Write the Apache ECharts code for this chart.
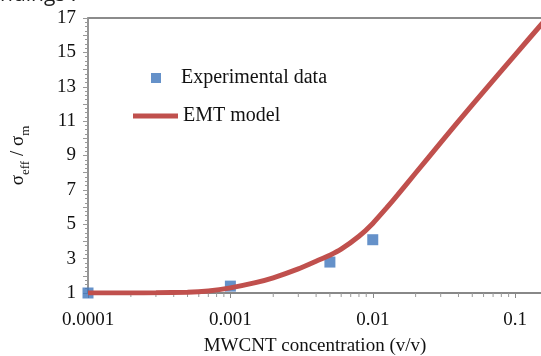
<!DOCTYPE html>
<html>
<head>
<meta charset="utf-8">
<script src="https://cdn.jsdelivr.net/npm/echarts@6/dist/echarts.min.js"></script>
<style>
  html, body { margin: 0; padding: 0; background: #fff; }
  #chart { width: 541px; height: 356px; }
</style>
</head>
<body>
<div id="chart"></div>
<script>
// experimental points
var expX = [0.0001, 0.001, 0.005, 0.01];
var expY = [1.0, 1.4, 2.8, 4.1];

// EMT model curve
var emtX = [0.0001, 0.0002, 0.0003, 0.0005, 0.0007, 0.001, 0.0015, 0.002, 0.003, 0.004,
            0.005, 0.006, 0.008, 0.01, 0.0125, 0.015, 0.02, 0.03, 0.05, 0.08, 0.1, 0.15, 0.2];
var emtY = [1.0, 1.0, 1.01, 1.04, 1.12, 1.3, 1.6, 1.88, 2.4, 2.85,
            3.2, 3.55, 4.3, 5.05, 5.95, 6.72, 7.98, 9.75, 11.95, 13.92, 14.86, 16.55, 17.75];

// minor ticks of the log axis
var minorTicks = [];
[0.0001, 0.001, 0.01, 0.1].forEach(function (d) {
    for (var k = 2; k <= 9; k++) minorTicks.push(d * k);
});

var serif = '"Liberation Serif", "Times New Roman", serif';

var chart = echarts.init(document.getElementById('chart'));

var option = {
    animation: false,
    grid: {
        left: 88,
        top: 18,
        bottom: 63,
        width: 470,
        outerBoundsMode: 'none',
        show: true,
        borderColor: '#666',
        borderWidth: 1.5
    },
    graphic: [{
        type: 'text',
        left: 0,
        top: -15,
        style: {
            text: 'ndings :',
            font: '21px "Open Sans"',
            fill: '#222'
        }
    }],
    legend: [{
        data: ['Experimental data'],
        orient: 'vertical',
        left: 151,
        top: 68,
        padding: 0,
        icon: 'rect',
        itemWidth: 10,
        itemHeight: 10,
        textStyle: { fontFamily: serif, fontSize: 20, color: '#111', padding: [0, 0, 0, 15] }
    }, {
        data: ['EMT model'],
        orient: 'vertical',
        left: 133,
        top: 106,
        padding: 0,
        icon: 'rect',
        itemWidth: 45,
        itemHeight: 5,
        textStyle: { fontFamily: serif, fontSize: 20, color: '#111' }
    }],
    xAxis: {
        type: 'log',
        min: 0.0001,
        max: 0.2,
        name: 'MWCNT concentration (v/v)',
        nameLocation: 'middle',
        nameGap: 44,
        nameTextStyle: { fontFamily: serif, fontSize: 19, color: '#111', padding: [0, 16, 0, 0] },
        axisLine: { lineStyle: { color: '#888', width: 1.5 } },
        axisTick: { show: true, length: 5, lineStyle: { color: '#888' } },
        splitLine: { show: false },
        axisLabel: {
            fontFamily: serif,
            fontSize: 19,
            color: '#111',
            margin: 18,
            showMaxLabel: false,
            formatter: function (v) {
                if (v > 0.15) return '';
                var e = Math.round(Math.log10(v));
                return String(Number(Math.pow(10, e).toFixed(4)));
            }
        }
    },
    yAxis: {
        type: 'value',
        min: 1,
        max: 17,
        interval: 1,
        name: '{s|σ}{sub|eff}{s| / σ}{sub|m}',
        nameLocation: 'middle',
        nameGap: 60,
        nameTextStyle: {
            rich: {
                s: { fontFamily: serif, fontSize: 19, color: '#111', lineHeight: 22, verticalAlign: 'bottom' },
                sub: { fontFamily: serif, fontSize: 13, color: '#111', lineHeight: 22, verticalAlign: 'bottom', padding: [0, 0, -4, 0] }
            }
        },
        axisLine: { show: true, lineStyle: { color: '#999', width: 1.5 } },
        axisTick: { show: true, length: 5, lineStyle: { color: '#999' } },
        minorTick: { show: true, splitNumber: 4, length: 3, lineStyle: { color: '#999' } },
        splitLine: { show: false },
        axisLabel: {
            fontFamily: serif,
            fontSize: 19,
            color: '#111',
            margin: 12,
            formatter: function (v) { return v % 2 === 1 ? String(v) : ''; }
        }
    },
    series: [{
        name: 'EMT model',
        type: 'line',
        data: emtX.map(function (x, i) { return [x, emtY[i]]; }),
        smooth: 0.15,
        showSymbol: false,
        symbol: 'none',
        lineStyle: { color: '#C0504D', width: 5 },
        itemStyle: { color: '#C0504D' },
        z: 3
    }, {
        name: 'Experimental data',
        type: 'scatter',
        data: expX.map(function (x, i) { return [x, expY[i]]; }),
        symbol: 'rect',
        symbolSize: 11,
        itemStyle: { color: '#3E76BC' },
        z: 2
    }, {
        type: 'custom',
        data: minorTicks.map(function (x) { return [x, 1]; }),
        clip: false,
        silent: true,
        renderItem: function (params, api) {
            var p = api.coord([api.value(0), api.value(1)]);
            return {
                type: 'line',
                shape: { x1: p[0], y1: p[1], x2: p[0], y2: p[1] + 4 },
                style: { stroke: '#999', lineWidth: 1 }
            };
        }
    }]
};

chart.setOption(option);

window.addEventListener('resize', function () {
    if (chart != null && chart != undefined) {
        chart.resize();
    }
});
</script>
</body>
</html>
